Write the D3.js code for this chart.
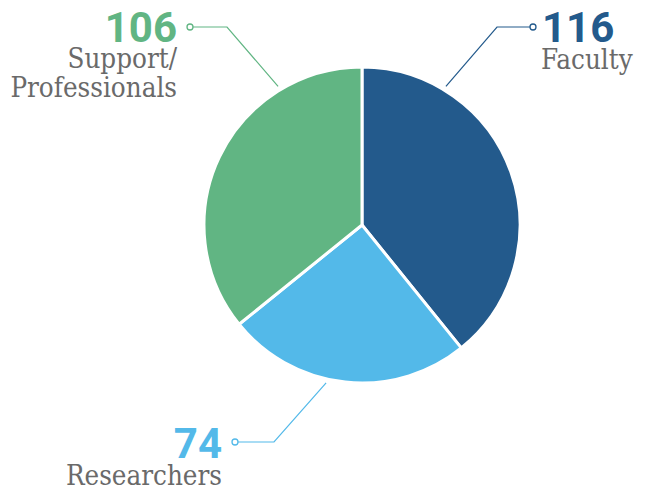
<!DOCTYPE html>
<html><head><meta charset="utf-8">
<script src="https://cdn.jsdelivr.net/npm/d3@7"></script>
<style>body{margin:0;background:#fff}</style>
</head><body>
<script>
const categories = ["Faculty", "Researchers", "Support/Professionals"];
const values = [116, 74, 106];
const labelLines = [["Faculty"], ["Researchers"], ["Support/", "Professionals"]];
const colors = ["#235a8c", "#53b9e9", "#61b583"];

const W = 649, H = 491, cx = 362, cy = 225, R = 158;
const svg = d3.select("body").append("svg").attr("width", W).attr("height", H);
const g = svg.append("g").attr("transform", `translate(${cx},${cy})`);

const data = categories.map((c, i) => ({c, v: values[i], i}));
const pie = d3.pie().value(d => d.v).sort(null);
const arcs = pie(data);
const arc = d3.arc().innerRadius(0).outerRadius(R);
g.selectAll("path").data(arcs).join("path")
  .attr("d", arc).attr("fill", d => colors[d.data.i])
  .attr("stroke", "#fff").attr("stroke-width", 3).attr("stroke-linejoin", "round");

// label layout: anchor angle (deg from top clockwise), elbow and text positions
const layout = [
  {ang: 31.2, elbow: [497, 27], dot: [533, 27], anchor: "start", tx: 542, numY: 42, lineY: [69], labX: 541},
  {ang: 192.8, elbow: [274, 442], dot: [235, 442], anchor: "end", tx: 222, numY: 458, lineY: [485], labX: 222},
  {ang: 328.8, elbow: [227, 27], dot: [190, 27], anchor: "end", tx: 177, numY: 42, lineY: [68, 97], labX: 177}
];
const lr = 162;
data.forEach((d, i) => {
  const L = layout[i];
  const a = L.ang * Math.PI / 180;
  const sx = cx + lr * Math.sin(a), sy = cy - lr * Math.cos(a);
  const ex = L.dot[0] + (L.dot[0] < L.elbow[0] ? 3 : -3);
  svg.append("polyline")
    .attr("points", `${sx},${sy} ${L.elbow[0]},${L.elbow[1]} ${ex},${L.dot[1]}`)
    .attr("fill", "none").attr("stroke", colors[i]).attr("stroke-width", 1.2);
  svg.append("circle").attr("cx", L.dot[0]).attr("cy", L.dot[1]).attr("r", 3)
    .attr("fill", "#fff").attr("stroke", colors[i]).attr("stroke-width", 1.3);
  svg.append("text").attr("x", L.tx).attr("y", L.numY).attr("text-anchor", L.anchor)
    .attr("font-family", "Roboto, sans-serif").attr("font-weight", 700)
    .attr("font-size", 42).attr("fill", colors[i]).text(d.v);
  labelLines[i].forEach((t, k) => {
    svg.append("text").attr("x", L.labX).attr("y", L.lineY[k]).attr("text-anchor", L.anchor)
      .attr("font-family", "'DejaVu Serif', serif").attr("font-stretch", "condensed")
      .attr("font-size", 27.5).attr("fill", "#6a6a6a").text(t);
  });
});
</script>
</body></html>
